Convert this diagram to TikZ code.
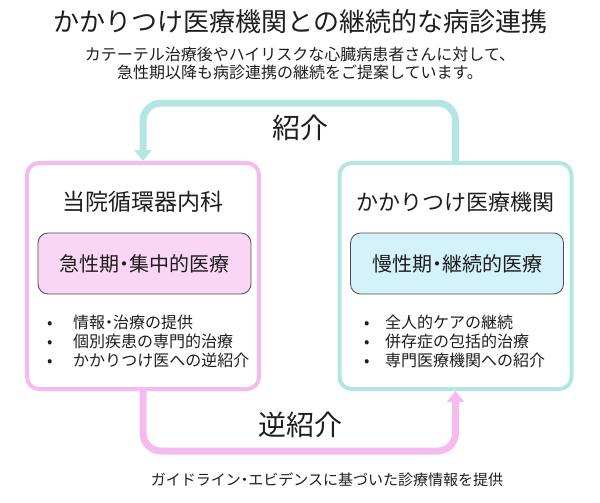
\documentclass[tikz,border=0pt]{standalone}
\usepackage{fontspec}
\setmainfont{Noto Sans CJK JP}
\newfontfamily\propfont[RawFeature=+palt]{Noto Sans CJK JP}
\newcommand\pdot{{\propfont ・}}
\usetikzlibrary{arrows.meta}

\definecolor{rosetrait}{RGB}{245,187,240}
\definecolor{rosefond}{RGB}{250,214,246}
\definecolor{cyantrait}{RGB}{178,230,226}
\definecolor{cyanfond}{RGB}{212,242,250}
\definecolor{texte}{RGB}{30,30,30}

\tikzset{
  grandcadre/.style={draw, fill=white, line width=4pt, rounded corners=12pt,
    minimum width=232pt, minimum height=226pt, inner sep=0pt},
  petitcadre/.style={draw=black!70, line width=0.8pt, rounded corners=10pt,
    minimum width=213pt, minimum height=61pt,
    font=\fontsize{20}{22}\selectfont, text=texte},
  entete/.style={font=\fontsize{23}{26}\selectfont, text=texte},
  puce/.style={anchor=west, inner sep=0pt, font=\fontsize{16}{18}\selectfont, text=texte},
  fleche/.style={line width=7pt, rounded corners=18pt,
    -{Triangle[width=17pt,length=11pt]}},
  etiquette/.style={font=\fontsize{28}{30}\selectfont, text=texte}
}

\begin{document}
\begin{tikzpicture}[x=1pt,y=-1pt]
    % Cadre de la figure
    \useasboundingbox (0,0) rectangle (600,503);

    % Titre et sous-titre
    \node[font=\fontsize{26}{30}\selectfont, text=texte] (titre) at (300,22) {かかりつけ医療機関との継続的な病診連携};
    \node[font=\fontsize{16}{18}\selectfont, text=texte, align=center] (soustitre) at (300,63)
        {カテーテル治療後やハイリスクな心臓病患者さんに対して、\\急性期以降も病診連携の継続をご提案しています。};

    % Cadres principaux
    \node[grandcadre, draw=rosetrait] (touin) at (143,276) {};
    \node[grandcadre, draw=cyantrait] (kakari) at (455.5,276) {};

    % Titres des cadres
    \node[entete] (touin-titre) at (143,202) {当院循環器内科};
    \node[entete, font=\fontsize{22}{26}\selectfont] (kakari-titre) at (455.5,202) {かかりつけ医療機関};

    % Cadres intérieurs
    \node[petitcadre, fill=rosefond] (aigu) at (144.5,263.5) {急性期\pdot 集中的医療};
    \node[petitcadre, fill=cyanfond] (chronique) at (457,263.5) {慢性期\pdot 継続的医療};

    % Listes à puces
    \foreach \t [count=\i] in {情報\pdot 治療の提供,個別疾患の専門的治療,かかりつけ医への逆紹介} {
        \node[puce] (touin-\i) at (47,303+19*\i) {\makebox[26pt][l]{•}\t};
    }
    \foreach \t [count=\i] in {全人的ケアの継続,併存症の包括的治療,専門医療機関への紹介} {
        \node[puce] (kakari-\i) at (364,303+19*\i) {\makebox[21pt][l]{•}\t};
    }

    % Flèches de liaison
    \coordinate (haut) at (0,103);
    \coordinate (bas) at (0,451);
    \draw[fleche, cyantrait] (kakari.north) -- (kakari.north |- haut) -- (touin.north |- haut) -- (touin.north);
    \draw[fleche, rosetrait] (touin.south) -- (touin.south |- bas) -- (kakari.south |- bas) -- (kakari.south);

    % Étiquettes des flèches
    \node[etiquette] (shoukai) at (300,128) {紹介};
    \node[etiquette] (gyaku) at (300,425) {逆紹介};

    % Note du bas
    \node[font=\fontsize{15}{18}\selectfont, text=texte] (note) at (327,480) {ガイドライン\pdot エビデンスに基づいた診療情報を提供};
\end{tikzpicture}
\end{document}
